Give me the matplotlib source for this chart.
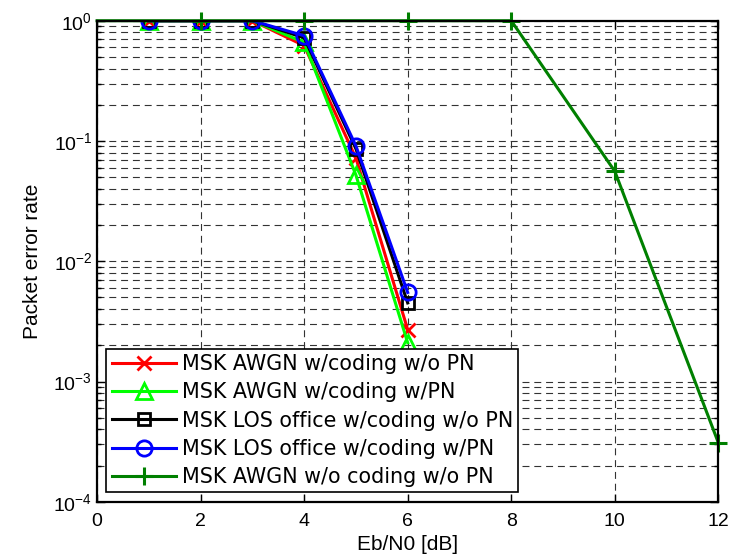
import matplotlib
matplotlib.use('Agg')
import matplotlib.pyplot as plt
from matplotlib.ticker import LogLocator, NullFormatter, FixedLocator

plt.rcParams['font.family'] = ['Liberation Sans', 'DejaVu Sans']
plt.rcParams['lines.scale_dashes'] = False

# Eb/N0 [dB]
ebn0_coded = [1, 2, 3, 4, 5, 6]
ebn0_uncoded = [0, 2, 4, 6, 8, 10, 12]

per_awgn_nopn = [1.0, 1.0, 1.0, 0.62, 0.072, 0.0027]
per_awgn_pn = [1.0, 1.0, 1.0, 0.66, 0.052, 0.0021]
per_los_nopn = [1.0, 1.0, 1.0, 0.72, 0.086, 0.0045]
per_los_pn = [1.0, 1.0, 1.0, 0.75, 0.091, 0.0055]
per_uncoded = [1.0, 1.0, 1.0, 1.0, 1.0, 0.056, 0.00031]

labels = ['MSK AWGN w/coding w/o PN',
          'MSK AWGN w/coding w/PN',
          'MSK LOS office w/coding w/o PN',
          'MSK LOS office w/coding w/PN',
          'MSK AWGN w/o coding w/o PN']

fig = plt.figure(figsize=(7.3, 5.6), dpi=100)
ax = fig.add_axes([0.133, 0.104, 0.851, 0.859])

lw = 2.2
ax.semilogy(ebn0_coded, per_awgn_nopn, color='#ff0000', marker='x', ms=10, mew=2, lw=lw, label=labels[0])
ax.semilogy(ebn0_coded, per_awgn_pn, color='#00ff00', marker='^', ms=11, mew=2, mfc='none', lw=lw, label=labels[1])
ax.semilogy(ebn0_coded, per_los_nopn, color='black', marker='s', ms=8, mew=2, mfc='none', lw=lw, label=labels[2])
ax.semilogy(ebn0_coded, per_los_pn, color='#0000ff', marker='o', ms=11, mew=2, mfc='none', lw=lw, label=labels[3])
ax.semilogy(ebn0_uncoded, per_uncoded, color='#008000', marker='+', ms=13, mew=2.2, lw=lw, label=labels[4],
            markevery=slice(1, None), clip_on=False)

ax.set_xlim(0, 12)
ax.set_ylim(1e-4, 1)
ax.xaxis.set_major_locator(FixedLocator([0, 2, 4, 6, 8, 10, 12]))
ax.yaxis.set_major_locator(LogLocator(base=10, numticks=10))
ax.yaxis.set_minor_locator(LogLocator(base=10, subs=range(2, 10), numticks=20))
ax.yaxis.set_minor_formatter(NullFormatter())

dash = (0, (5, 3.5))
ax.grid(True, which='major', axis='both', color='#333333', lw=0.8, linestyle=dash)
ax.grid(True, which='minor', axis='y', color='#333333', lw=0.8, linestyle=dash)
ax.set_axisbelow(True)

ax.tick_params(which='both', direction='in', top=True, right=True, labelsize=14, width=1.0)
ax.tick_params(which='major', length=6)
ax.tick_params(which='minor', length=3)
ax.tick_params(axis='x', pad=8)
for s in ax.spines.values():
    s.set_linewidth(1.6)

ax.set_xlabel('Eb/N0 [dB]', fontsize=15, labelpad=4)
ax.set_ylabel('Packet error rate', fontsize=15, labelpad=8)

leg = ax.legend(loc='lower left', fancybox=False, framealpha=1,
                edgecolor='black', borderaxespad=0.45, handlelength=3.1,
                labelspacing=0.4, borderpad=0.25, handletextpad=0.3,
                prop={'family': ['DejaVu Sans'], 'size': 14.9})
leg.get_frame().set_linewidth(1.2)

fig.savefig('out.png', dpi=100)
